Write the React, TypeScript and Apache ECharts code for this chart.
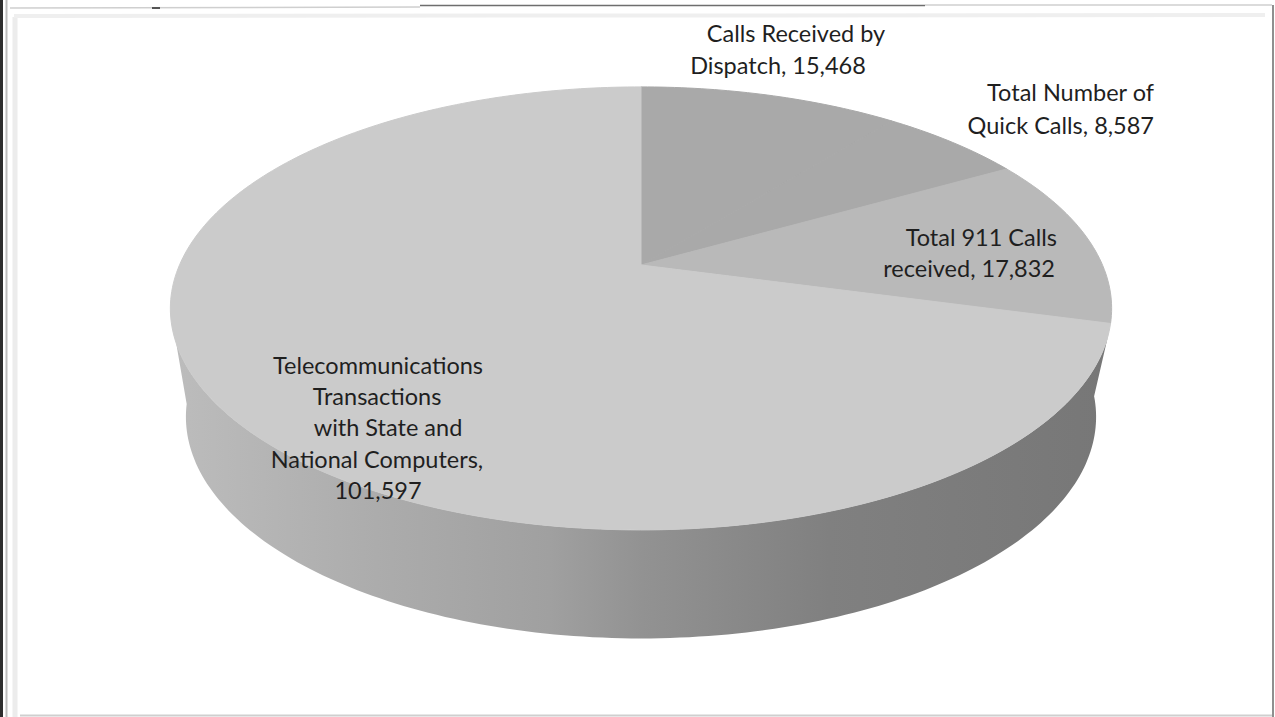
import React, { useEffect, useRef } from "react";
import * as echarts from "echarts";

// Annual call and transaction volumes for the communications centre
const categories = [
  "Calls Received by Dispatch",
  "Total Number of Quick Calls",
  "Total 911 Calls received",
  "Telecommunications Transactions with State and National Computers",
];
const volumes = [15468, 8587, 17832, 101597];
const labelTemplates = [
  "Calls Received by\nDispatch, {v}",
  "Total Number of\nQuick Calls, {v}",
  "Total 911 Calls\nreceived, {v}",
  "Telecommunications\nTransactions\nwith State and\nNational Computers,\n{v}",
];

const sliceColors = ["#a9a9a9", "#a9a9a9", "#b9b9b9", "#cbcbcb"];
const FONT = "Lato, Carlito, Calibri, sans-serif";
const FONT_SIZE = 23.5;

// Each label line: [x, baseline-centre y, alignment]
const labelPlacement: [number, number, string][][] = [
  [[796, 33, "center"], [778, 65, "center"]],
  [[1154, 92, "right"], [1154, 125, "right"]],
  [[1057, 237, "right"], [1055, 268, "right"]],
  [
    [378, 365, "center"],
    [377, 396, "center"],
    [388, 427, "center"],
    [377, 459, "center"],
    [378, 490, "center"],
  ],
];

// Perspective projection of the pie disc: angle is clockwise from twelve o'clock
const APEX = { x: 641, y: 265 };
const DISC = { a: 461.5, b: 213, k: -0.196 };
const SIDE = { drop: 108.5, shrink: 0.967 };
const FRONT_TOP = [107, 250];
const FRONT_BOTTOM = [96, 262];

const rim = (deg: number): number[] => {
  const t = (deg * Math.PI) / 180;
  const u = Math.sin(t);
  const v = -Math.cos(t);
  const d = 1 + DISC.k * v;
  return [APEX.x + (DISC.a * u) / d, APEX.y + (DISC.b * v) / d];
};
const lowerRim = (deg: number): number[] => {
  const [x, y] = rim(deg);
  return [APEX.x + (x - APEX.x) * SIDE.shrink, y + SIDE.drop];
};
const sweep = (fn: (d: number) => number[], from: number, to: number) => {
  const pts: number[][] = [];
  const n = Math.max(2, Math.ceil(Math.abs(to - from)));
  for (let i = 0; i <= n; i++) pts.push(fn(from + ((to - from) * i) / n));
  return pts;
};

const total = volumes.reduce((s, v) => s + v, 0);
const sliceStart = (i: number) =>
  (volumes.slice(0, i).reduce((s, v) => s + v, 0) / total) * 360;

function App() {
  const ref = useRef<HTMLDivElement>(null);

  useEffect(() => {
    const chart = echarts.init(ref.current!, undefined, { renderer: "svg" });
    const sideFill = new echarts.graphic.LinearGradient(0, 0, 1, 0, [
      { offset: 0, color: "#bcbcbc" },
      { offset: 0.2, color: "#adadad" },
      { offset: 0.4, color: "#a0a0a0" },
      { offset: 0.5, color: "#929292" },
      { offset: 0.7, color: "#808080" },
      { offset: 1, color: "#777777" },
    ]);

    const frameLine = (x1: number, y1: number, x2: number, y2: number, stroke: string, lineWidth: number) => ({
      type: "line",
      silent: true,
      shape: { x1, y1, x2, y2 },
      style: { stroke, lineWidth },
    });

    chart.setOption({
      animation: false,
      backgroundColor: "#ffffff",
      graphic: [
        frameLine(1.5, 0, 1.5, 717, "#2e2e2e", 3),
        frameLine(6.5, 0, 6.5, 717, "#bdbdbd", 2),
        frameLine(15, 17, 15, 717, "#ececec", 5),
        frameLine(10, 8, 420, 7, "#cfcfcf", 1.5),
        frameLine(152, 8, 160, 8, "#555555", 2),
        frameLine(420, 5.5, 925, 5.5, "#6e6e6e", 1.5),
        frameLine(925, 5, 1272, 5, "#cfcfcf", 1.5),
        frameLine(14, 16, 1265, 15, "#efefef", 4),
        frameLine(1273, 5, 1273, 717, "#8f8f8f", 2),
        frameLine(20, 715.5, 1272, 715.5, "#cfcfcf", 2),
      ],
      series: [
        {
          type: "custom",
          coordinateSystem: "none",
          silent: true,
          data: volumes.map((v, i) => ({ name: categories[i], value: v })),
          renderItem: (params: any) => {
            const i = params.dataIndex;
            const start = sliceStart(i);
            const end = i === volumes.length - 1 ? 360 : sliceStart(i + 1);
            const children: any[] = [];
            // Only the slice that wraps the front of the disc shows a wall
            if (start < FRONT_TOP[1] && end > FRONT_TOP[0] && end - start > 180) {
              const points = [
                ...sweep(rim, FRONT_TOP[0], FRONT_TOP[1]),
                ...sweep(lowerRim, FRONT_BOTTOM[1], FRONT_BOTTOM[0]),
              ];
              children.push({
                type: "polygon",
                shape: { points },
                style: { fill: sideFill },
              });
            }
            children.push({
              type: "polygon",
              shape: { points: [[APEX.x, APEX.y], ...sweep(rim, start, end)] },
              style: { fill: sliceColors[i], stroke: sliceColors[i], lineWidth: 1 },
            });
            return { type: "group", children };
          },
          z: 2,
        },
        {
          type: "custom",
          coordinateSystem: "none",
          silent: true,
          data: volumes.map((v, i) => ({ name: categories[i], value: v })),
          renderItem: (params: any) => {
            const i = params.dataIndex;
            const text = labelTemplates[i].replace("{v}", volumes[i].toLocaleString("en-US"));
            return {
              type: "group",
              children: text.split("\n").map((line, j) => ({
                type: "text",
                x: labelPlacement[i][j][0],
                y: labelPlacement[i][j][1],
                style: {
                  text: line,
                  fill: "#1f1f1f",
                  font: `${FONT_SIZE}px ${FONT}`,
                  textAlign: labelPlacement[i][j][2],
                  textVerticalAlign: "middle",
                },
              })),
            };
          },
          z: 3,
        },
      ],
    });

    return () => chart.dispose();
  }, []);

  return (
    <div
      ref={ref}
      style={{ position: "fixed", left: 0, top: 0, width: 1275, height: 717 }}
    />
  );
}

export default App;
